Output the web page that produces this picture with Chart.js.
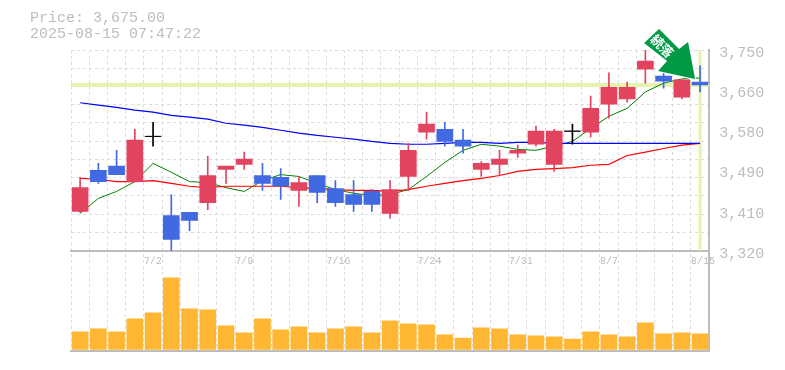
<!DOCTYPE html>
<html>
<head>
<meta charset="utf-8">
<style>
  body { margin: 0; background: #fff; }
  canvas { display: block; }
</style>
<script src="https://cdn.jsdelivr.net/npm/chart.js@4/dist/chart.umd.min.js"></script>
</head>
<body>
<canvas id="chart" width="785" height="370"></canvas>
<script>
const dates = ["6/26","6/27","6/30","7/1","7/2","7/3","7/4","7/7","7/8","7/9","7/10","7/11","7/14","7/15","7/16","7/17","7/18","7/22","7/23","7/24","7/25","7/28","7/29","7/30","7/31","8/1","8/4","8/5","8/6","8/7","8/8","8/12","8/13","8/14","8/15"];
const dateTicks = ["7/2","7/9","7/16","7/24","7/31","8/7","8/15"];

const open = [3404,3492,3501,3468,3565,3395,3402,3423,3494,3505,3481,3477,3449,3481,3453,3440,3447,3400,3479,3574,3580,3557,3494,3505,3529,3548,3505,3576,3574,3634,3645,3709,3694,3649,3681];
const close = [3455,3468,3483,3557,3565,3344,3385,3481,3501,3516,3464,3459,3466,3445,3423,3419,3419,3451,3535,3591,3554,3544,3507,3516,3535,3576,3576,3576,3625,3670,3670,3726,3683,3686,3675];
const low = [3402,3464,3483,3468,3544,3320,3363,3408,3464,3494,3449,3430,3415,3423,3415,3404,3404,3389,3449,3559,3544,3529,3479,3481,3520,3544,3490,3548,3563,3604,3638,3679,3668,3645,3660];
const high = [3477,3507,3535,3580,3595,3440,3402,3522,3501,3531,3507,3496,3479,3481,3470,3470,3451,3470,3550,3617,3595,3580,3511,3535,3546,3587,3580,3591,3651,3701,3681,3750,3711,3686,3716];

const ma5 = [3400,3432,3447,3468,3507,3488,3468,3466,3455,3447,3470,3483,3479,3464,3451,3443,3438,3440,3451,3479,3509,3535,3548,3544,3537,3535,3544,3554,3582,3608,3625,3660,3679,3688,3690];
const ma25 = [3475,3473,3468,3468,3470,3464,3458,3455,3458,3458,3458,3458,3455,3453,3451,3449,3449,3447,3451,3458,3464,3470,3475,3481,3490,3494,3496,3498,3503,3505,3524,3531,3539,3546,3550];
const ma75 = [3637,3632,3627,3621,3617,3610,3606,3602,3593,3589,3584,3578,3572,3567,3563,3559,3554,3550,3548,3548,3550,3552,3552,3550,3552,3552,3550,3550,3550,3550,3550,3550,3550,3550,3550];

const volume = [175,205,175,305,365,715,405,395,235,165,305,195,225,165,205,225,165,285,255,245,145,115,215,205,145,135,125,105,175,145,125,265,155,165,155];

const priceTicks = [3320,3406,3492,3578,3664,3750];
const priceLabels = ["3,320","3,410","3,490","3,580","3,660","3,750"];
const lastPrice = 3675;
const titleLines = ["Price: 3,675.00","2025-08-15 07:47:22"];
const badgeText = "続落";

const GREY = "#bdbdbd";
const GRID = "#dcdcdc";
const YELLOW = "#e6f2ae";
const MONO = "'Liberation Mono', monospace";

const candleColor = (i) => {
  if (close[i] > open[i]) return "#e2445f";
  if (close[i] < open[i]) return "#4169e1";
  return "#000000";
};

// last price lines sit under the candles, but over the grid
const priceLines = {
  id: "priceLines",
  beforeDatasetsDraw(chart) {
    const c = chart.ctx;
    const px = chart.scales.x.getPixelForValue(dates.length - 1);
    const py = chart.scales.y.getPixelForValue(lastPrice);
    const area = chart.scales.y;
    c.save();
    c.fillStyle = YELLOW;
    c.fillRect(chart.chartArea.left, py - 2, chart.chartArea.width, 4);
    c.fillRect(px - 1.5, area.top, 3, area.height);
    c.restore();
  },
};

const overlay = {
  id: "overlay",
  afterDraw(chart) {
    const c = chart.ctx;
    c.save();
    c.fillStyle = GREY;
    c.font = "15px " + MONO;
    c.fillText(titleLines[0], 30, 22);
    c.fillText(titleLines[1], 30, 38);

    // arrow badge, placed from the last candle
    const tx = chart.scales.x.getPixelForValue(dates.length - 1) - 5;
    const ty = chart.scales.y.getPixelForValue(lastPrice) - 6;
    const pts = [[-51,-36],[-36,-50],[-16,-30],[-7,-37],[0,0],[-37,-8],[-28,-18]];
    c.beginPath();
    pts.forEach((p, i) => (i ? c.lineTo(tx + p[0], ty + p[1]) : c.moveTo(tx + p[0], ty + p[1])));
    c.closePath();
    c.lineJoin = "round";
    c.lineWidth = 2;
    c.strokeStyle = "#ffffff";
    c.stroke();
    c.fillStyle = "#009a46";
    c.fill();

    c.translate(tx - 33, ty - 33);
    c.rotate(Math.PI / 4);
    c.fillStyle = "#ffffff";
    c.font = "bold 13px 'Noto Sans CJK JP'";
    c.textAlign = "center";
    c.textBaseline = "middle";
    c.fillText(badgeText, 0, 0);
    c.restore();
  },
};

new Chart(document.getElementById("chart"), {
  data: {
    labels: dates,
    datasets: [
      { type: "bar", yAxisID: "y2", data: volume, backgroundColor: "#ffb733", barThickness: 16, grouped: false, order: 5 },
      { type: "line", data: ma75, borderColor: "#0000ff", borderWidth: 1.2, pointRadius: 0, order: 4 },
      { type: "line", data: ma25, borderColor: "#ff0000", borderWidth: 1.2, pointRadius: 0, order: 4 },
      { type: "line", data: ma5, borderColor: "#008000", borderWidth: 1, pointRadius: 0, order: 4 },
      { type: "bar", data: dates.map((d, i) => [low[i], high[i]]), backgroundColor: dates.map((d, i) => candleColor(i)), barThickness: 1, grouped: false, order: 3 },
      { type: "bar", data: dates.map((d, i) => [open[i], close[i]]), backgroundColor: dates.map((d, i) => candleColor(i)), barThickness: 16, grouped: false, order: 2 },
      // a candle with open == close has no body, so it gets a dash
      { type: "line", data: dates.map((d, i) => (open[i] === close[i] ? close[i] : null)), showLine: false, pointStyle: "line", pointRadius: 8, pointBorderColor: "#000000", pointBorderWidth: 1, order: 1 },
    ],
  },
  options: {
    responsive: false,
    animation: false,
    layout: { padding: { left: 71, top: 50, right: 15.8, bottom: 19 } },
    plugins: { legend: { display: false }, tooltip: { enabled: false } },
    scales: {
      x: {
        type: "category",
        position: { y: 3320 },
        offset: true,
        grid: { offset: true, color: GRID, lineWidth: 1, tickLength: 0, drawTicks: false },
        border: { color: GREY, width: 2, dash: [3, 3] },
        ticks: {
          autoSkip: false,
          maxRotation: 0,
          align: "start",
          labelOffset: -9,
          padding: 5,
          color: GREY,
          font: { family: MONO, size: 10 },
          callback(value) {
            const label = this.getLabelForValue(value);
            return dateTicks.includes(label) ? label : "";
          },
        },
      },
      x2: {
        type: "category",
        position: "bottom",
        grid: { display: false, drawTicks: false },
        ticks: { display: false },
        border: { color: GREY, width: 2 },
      },
      y: {
        type: "linear",
        position: "right",
        stack: "panes",
        stackWeight: 2,
        min: 3320,
        max: 3750,
        afterFit(scale) { scale.width = 60; },
        afterBuildTicks(scale) {
          const rows = [];
          for (let k = 0; k <= 11; k++) rows.push({ value: 3320 + (k * 430) / 11, row: true });
          scale.ticks = rows.concat(priceTicks.slice(1, -1).map((v) => ({ value: v, row: false })));
        },
        grid: {
          drawTicks: false,
          color: (ctx) => (ctx.tick && ctx.tick.row ? GRID : "rgba(0,0,0,0)"),
        },
        border: { color: GREY, width: 2, dash: [3, 3] },
        ticks: {
          autoSkip: false,
          padding: 10,
          labelOffset: 3,
          color: GREY,
          font: { family: MONO, size: 15 },
          callback(value) {
            const n = priceTicks.findIndex((v) => Math.abs(v - value) < 0.01);
            return n >= 0 ? priceLabels[n] : "";
          },
        },
      },
      y2: {
        type: "linear",
        position: "right",
        stack: "panes",
        stackWeight: 1,
        min: -15,
        max: 985,
        afterFit(scale) { scale.width = 60; },
        grid: { display: false, drawTicks: false },
        ticks: { display: false },
        border: { color: GREY, width: 2 },
      },
    },
  },
  plugins: [priceLines, overlay],
});
</script>
</body>
</html>
